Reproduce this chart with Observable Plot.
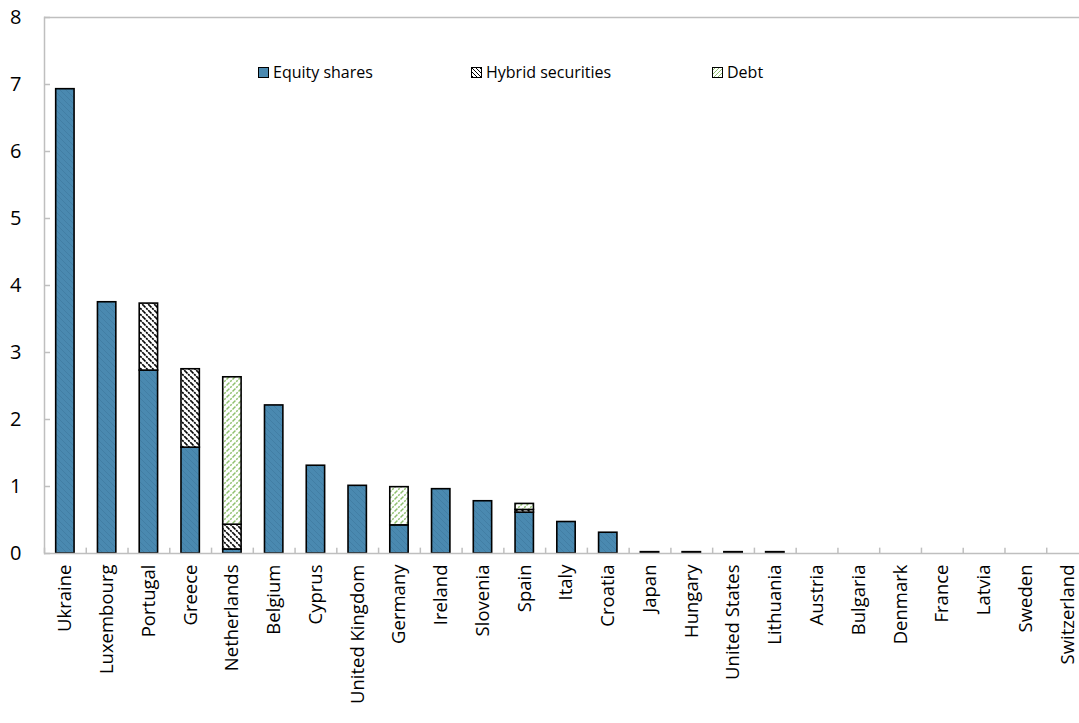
<!DOCTYPE html>
<html><head><meta charset="utf-8">
<script src="https://cdn.jsdelivr.net/npm/d3@7"></script>
<script src="https://cdn.jsdelivr.net/npm/@observablehq/plot@0.6"></script>
<style>
body{margin:0;background:#fff;font-family:"Open Sans",sans-serif;}
#wrap{position:relative;width:1079px;height:723px;overflow:hidden;background:#fff}
.leg{position:absolute;top:60px;font-size:16px;line-height:24px;display:flex;align-items:center;color:#000;white-space:nowrap}
.leg svg{margin-right:4px}
</style></head><body><div id="wrap"></div>
<script>
const countries = ["Ukraine","Luxembourg","Portugal","Greece","Netherlands","Belgium","Cyprus","United Kingdom","Germany","Ireland","Slovenia","Spain","Italy","Croatia","Japan","Hungary","United States","Lithuania","Austria","Bulgaria","Denmark","France","Latvia","Sweden","Switzerland"];
const equity = [6.93,3.75,2.73,1.58,0.06,2.21,1.31,1.01,0.42,0.96,0.78,0.61,0.47,0.31,0.02,0.02,0.02,0.02,0,0,0,0,0,0,0];
const hybrid = [0,0,1.00,1.17,0.37,0,0,0,0,0,0,0.04,0,0,0,0,0,0,0,0,0,0,0,0,0];
const debt   = [0,0,0,0,2.20,0,0,0,0.57,0,0,0.09,0,0,0,0,0,0,0,0,0,0,0,0,0];
const seriesNames = ["Equity shares","Hybrid securities","Debt"];
const yTicks = [0,1,2,3,4,5,6,7,8];

const rows = [];
countries.forEach((c,i)=>{
  [equity,hybrid,debt].forEach((arr,k)=>{
    if (arr[i] > 0) rows.push({country:c, type:seriesNames[k], value:arr[i]});
  });
});

const patternDefs = `
<pattern id="pEq" patternUnits="userSpaceOnUse" width="6" height="6">
  <rect width="6" height="6" fill="#4a89b0"/>
  <path d="M0,0L6,6M-1,5L1,7M5,-1L7,1" stroke="#427ea4" stroke-width="1"/>
</pattern>
<pattern id="pHy" patternUnits="userSpaceOnUse" width="6" height="6">
  <rect width="6" height="6" fill="#fff"/>
  <path d="M0,0L6,6M-1,5L1,7M5,-1L7,1" stroke="#000" stroke-width="1.6" stroke-dasharray="2.2,0.8"/>
</pattern>
<pattern id="pDe" patternUnits="userSpaceOnUse" width="6" height="6">
  <rect width="6" height="6" fill="#fff"/>
  <path d="M0,6L6,0M-1,1L1,-1M5,7L7,5" stroke="#8fc06e" stroke-width="1.5" stroke-dasharray="2,1.2"/>
</pattern>`;

function defsMark() {
  const g = document.createElementNS("http://www.w3.org/2000/svg","defs");
  g.innerHTML = patternDefs;
  return g;
}

const left = 44, right = 1088;
const bw = (right - left) / countries.length;

const chart = Plot.plot({
  width: 1079, height: 723,
  marginTop: 17, marginBottom: 170, marginLeft: left, marginRight: 1079 - right,
  x: {domain: countries, paddingInner: 0.56, paddingOuter: 0.28, round: false, label: null},
  y: {domain: [0, 8], label: null},
  color: {domain: seriesNames, range: ["url(#pEq)","url(#pHy)","url(#pDe)"]},
  style: {fontFamily: "'Open Sans', sans-serif", fontSize: "17px", color: "#000", background: "#fff", overflow: "hidden"},
  marks: [
    defsMark,
    Plot.ruleY([8], {stroke: "#bfbfbf", strokeWidth: 1.5}),
    Plot.frame({anchor: "left", stroke: "#bfbfbf", strokeWidth: 1.5}),
    Plot.ruleX(countries, {x: d => d, y1: 0, y2: 0.08, dx: -bw/2, stroke: "#bfbfbf", strokeWidth: 1.5}),
    Plot.barY(rows, Plot.stackY({x: "country", y: "value", fill: "type", stroke: "#000", strokeWidth: 1.6})),
    Plot.ruleY([0], {stroke: "#bfbfbf", strokeWidth: 1.5}),
    Plot.axisY({ticks: yTicks, tickSize: -6, tickPadding: 29, stroke: "#bfbfbf", strokeWidth: 1.5, fontSize: 20, tickFormat: d => String(d)}),
    Plot.axisX({tickSize: 0, tickRotate: -90, tickPadding: 11, fontSize: 18.5, style: {letterSpacing: "0.2px"}})
  ]
});
const wrap = document.getElementById("wrap");
wrap.appendChild(chart);

const swatchFill = ["#4a89b0","url(#lHy)","url(#lDe)"];
const legPos = [[258, 273],[471, 487],[712, 726]];
seriesNames.forEach((name, i) => {
  const d = document.createElement("div");
  d.className = "leg";
  d.style.left = legPos[i][0] + "px";
  d.innerHTML = `<svg width="11" height="11" style="overflow:visible"><defs>
  <pattern id="lHy" patternUnits="userSpaceOnUse" width="4" height="4"><rect width="4" height="4" fill="#fff"/><path d="M0,0L4,4M-1,3L1,5M3,-1L5,1" stroke="#000" stroke-width="1"/></pattern>
  <pattern id="lDe" patternUnits="userSpaceOnUse" width="4" height="4"><rect width="4" height="4" fill="#fff"/><path d="M0,4L4,0M-1,1L1,-1M3,5L5,3" stroke="#8fc06e" stroke-width="1"/></pattern></defs>
  <rect x="0.5" y="0.5" width="10" height="10" fill="${swatchFill[i]}" stroke="#000" stroke-width="1"/></svg><span>${name}</span>`;
  wrap.appendChild(d);
});
</script></body></html>
